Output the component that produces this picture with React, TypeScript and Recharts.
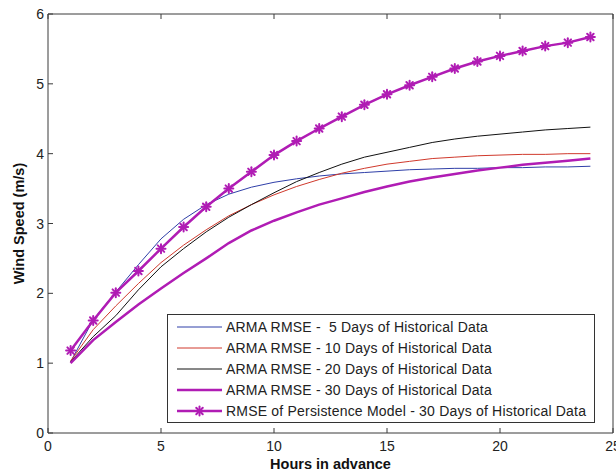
import React from 'react';
import { LineChart, Line, XAxis, YAxis, Legend } from 'recharts';

const hours = [1, 2, 3, 4, 5, 6, 7, 8, 9, 10, 11, 12, 13, 14, 15, 16, 17, 18, 19, 20, 21, 22, 23, 24];
const arma5 = [1.02, 1.62, 2.02, 2.41, 2.78, 3.06, 3.27, 3.42, 3.52, 3.59, 3.64, 3.68, 3.71, 3.73, 3.75, 3.77, 3.78, 3.79, 3.79, 3.80, 3.80, 3.81, 3.81, 3.82];
const arma10 = [1.03, 1.48, 1.82, 2.14, 2.44, 2.69, 2.91, 3.11, 3.27, 3.41, 3.53, 3.63, 3.72, 3.79, 3.85, 3.89, 3.93, 3.95, 3.97, 3.98, 3.99, 3.99, 4.00, 4.00];
const arma20 = [1.02, 1.38, 1.68, 2.05, 2.38, 2.64, 2.88, 3.09, 3.27, 3.44, 3.60, 3.73, 3.85, 3.95, 4.02, 4.09, 4.16, 4.21, 4.25, 4.28, 4.31, 4.34, 4.36, 4.38];
const arma30 = [1.00, 1.33, 1.59, 1.84, 2.07, 2.29, 2.50, 2.72, 2.90, 3.04, 3.16, 3.27, 3.36, 3.45, 3.53, 3.60, 3.66, 3.71, 3.76, 3.80, 3.84, 3.87, 3.90, 3.93];
const persistence = [1.18, 1.61, 2.01, 2.32, 2.64, 2.95, 3.24, 3.50, 3.74, 3.98, 4.18, 4.36, 4.53, 4.70, 4.85, 4.98, 5.10, 5.22, 5.32, 5.40, 5.47, 5.54, 5.59, 5.67];

const xTicks = [0, 5, 10, 15, 20, 25];
const yTicks = [0, 1, 2, 3, 4, 5, 6];
const legendLabels = [
  'ARMA RMSE -  5 Days of Historical Data',
  'ARMA RMSE - 10 Days of Historical Data',
  'ARMA RMSE - 20 Days of Historical Data',
  'ARMA RMSE - 30 Days of Historical Data',
  'RMSE of Persistence Model - 30 Days of Historical Data',
];

const data = hours.map((h, i) => ({
  h,
  arma5: arma5[i],
  arma10: arma10[i],
  arma20: arma20[i],
  arma30: arma30[i],
  persistence: persistence[i],
}));

const FONT = '"Liberation Sans", Arial, Helvetica, sans-serif';
const AXIS = '#3a3a3a';
const BLUE = '#2f3fa8';
const RED = '#d0392c';
const BLACK = '#111111';
const MAGENTA = '#b01cb4';

const seriesStyle = [
  { key: 'arma5', color: BLUE, width: 1, star: false },
  { key: 'arma10', color: RED, width: 1, star: false },
  { key: 'arma20', color: BLACK, width: 1, star: false },
  { key: 'arma30', color: MAGENTA, width: 2.5, star: false },
  { key: 'persistence', color: MAGENTA, width: 2.5, star: true },
];

const StarShape = ({ cx, cy, color }: any) => {
  if (cx == null || cy == null) return null;
  const r = 4.5;
  const d = r * 0.72;
  return (
    <g stroke={color} strokeWidth={2} strokeLinecap="round">
      <line x1={cx - r} y1={cy} x2={cx + r} y2={cy} />
      <line x1={cx} y1={cy - r} x2={cx} y2={cy + r} />
      <line x1={cx - d} y1={cy - d} x2={cx + d} y2={cy + d} />
      <line x1={cx - d} y1={cy + d} x2={cx + d} y2={cy - d} />
    </g>
  );
};

const BottomTick = ({ x, y, payload }: any) => (
  <g>
    <line x1={x} y1={y} x2={x} y2={y - 5} stroke={AXIS} />
    <text x={x} y={y + 13} textAnchor="middle" dominantBaseline="central" fontFamily={FONT} fontSize={14} fill="#222">
      {payload.value}
    </text>
  </g>
);
const TopTick = ({ x, y }: any) => <line x1={x} y1={y} x2={x} y2={y + 5} stroke={AXIS} />;
const LeftTick = ({ x, y, payload }: any) => (
  <g>
    <line x1={x} y1={y} x2={x + 5} y2={y} stroke={AXIS} />
    <text x={x - 4} y={y} textAnchor="end" dominantBaseline="central" fontFamily={FONT} fontSize={14} fill="#222">
      {payload.value}
    </text>
  </g>
);
const RightTick = ({ x, y }: any) => <line x1={x} y1={y} x2={x - 5} y2={y} stroke={AXIS} />;

const LegendBox = () => (
  <div
    style={{
      width: 428,
      height: 109,
      boxSizing: 'border-box',
      border: '1px solid #333',
      background: '#fff',
      fontFamily: FONT,
      fontSize: 14,
      letterSpacing: 0.2,
      color: '#222',
      position: 'relative',
    }}
  >
    {legendLabels.map((label, i) => {
      const s = seriesStyle[i];
      return (
        <div
          key={label}
          style={{ position: 'absolute', left: 0, top: 12 + i * 21 - 10, height: 20, display: 'flex', alignItems: 'center' }}
        >
          <svg width={58} height={20} style={{ display: 'block' }}>
            <line x1={9} y1={10} x2={54} y2={10} stroke={s.color} strokeWidth={s.width} />
            {s.star && <StarShape cx={31.5} cy={10} color={s.color} />}
          </svg>
          <span style={{ whiteSpace: 'pre', lineHeight: '20px' }}>{label}</span>
        </div>
      );
    })}
  </div>
);

export default function App() {
  return (
    <div style={{ position: 'absolute', left: 0, top: 0, width: 616, height: 475, background: '#fff' }}>
      <LineChart width={616} height={475} data={data} margin={{ top: 13, right: 2, bottom: 0, left: 0 }}>
        <XAxis
          dataKey="h"
          type="number"
          domain={[0, 25]}
          ticks={xTicks}
          height={42}
          tickSize={0}
          tickMargin={0}
          tickLine={false}
          axisLine={{ stroke: AXIS }}
          tick={<BottomTick />}
          interval={0}
          label={{
            content: (props: any) => {
              const vb = props.viewBox || {};
              const cx = vb.x + vb.width / 2;
              return (
                <text x={cx} y={464} textAnchor="middle" dominantBaseline="central" fontFamily={FONT} fontSize={14.5} fontWeight="bold" fill="#111">
                  Hours in advance
                </text>
              );
            },
          }}
        />
        <XAxis
          xAxisId="top"
          dataKey="h"
          type="number"
          orientation="top"
          domain={[0, 25]}
          ticks={xTicks}
          height={1}
          tickSize={0}
          tickMargin={0}
          tickLine={false}
          axisLine={{ stroke: AXIS }}
          tick={<TopTick />}
          interval={0}
        />
        <YAxis
          type="number"
          domain={[0, 6]}
          ticks={yTicks}
          width={48}
          tickSize={0}
          tickMargin={0}
          tickLine={false}
          axisLine={{ stroke: AXIS }}
          tick={<LeftTick />}
          interval={0}
          label={{
            content: (props: any) => {
              const vb = props.viewBox || {};
              const cy = vb.y + vb.height / 2;
              return (
                <text
                  x={19}
                  y={cy}
                  transform={`rotate(-90, 19, ${cy})`}
                  textAnchor="middle"
                  dominantBaseline="central"
                  fontFamily={FONT}
                  fontSize={14.5}
                  fontWeight="bold"
                  fill="#111"
                >
                  Wind Speed (m/s)
                </text>
              );
            },
          }}
        />
        <YAxis
          yAxisId="right"
          orientation="right"
          type="number"
          domain={[0, 6]}
          ticks={yTicks}
          width={1}
          tickSize={0}
          tickMargin={0}
          tickLine={false}
          axisLine={{ stroke: AXIS }}
          tick={<RightTick />}
          interval={0}
        />
        {seriesStyle.map((s) => (
          <Line
            key={s.key}
            type="linear"
            dataKey={s.key}
            stroke={s.color}
            strokeWidth={s.width}
            dot={s.star ? (p: any) => <StarShape key={`${s.key}-${p.index}`} cx={p.cx} cy={p.cy} color={s.color} /> : false}
            activeDot={false}
            isAnimationActive={false}
          />
        ))}
        <Legend
          layout="vertical"
          align="center"
          verticalAlign="middle"
          content={<LegendBox />}
          wrapperStyle={{ left: 167, top: 314, width: 428, height: 109, right: 'auto', bottom: 'auto' }}
        />
      </LineChart>
    </div>
  );
}
